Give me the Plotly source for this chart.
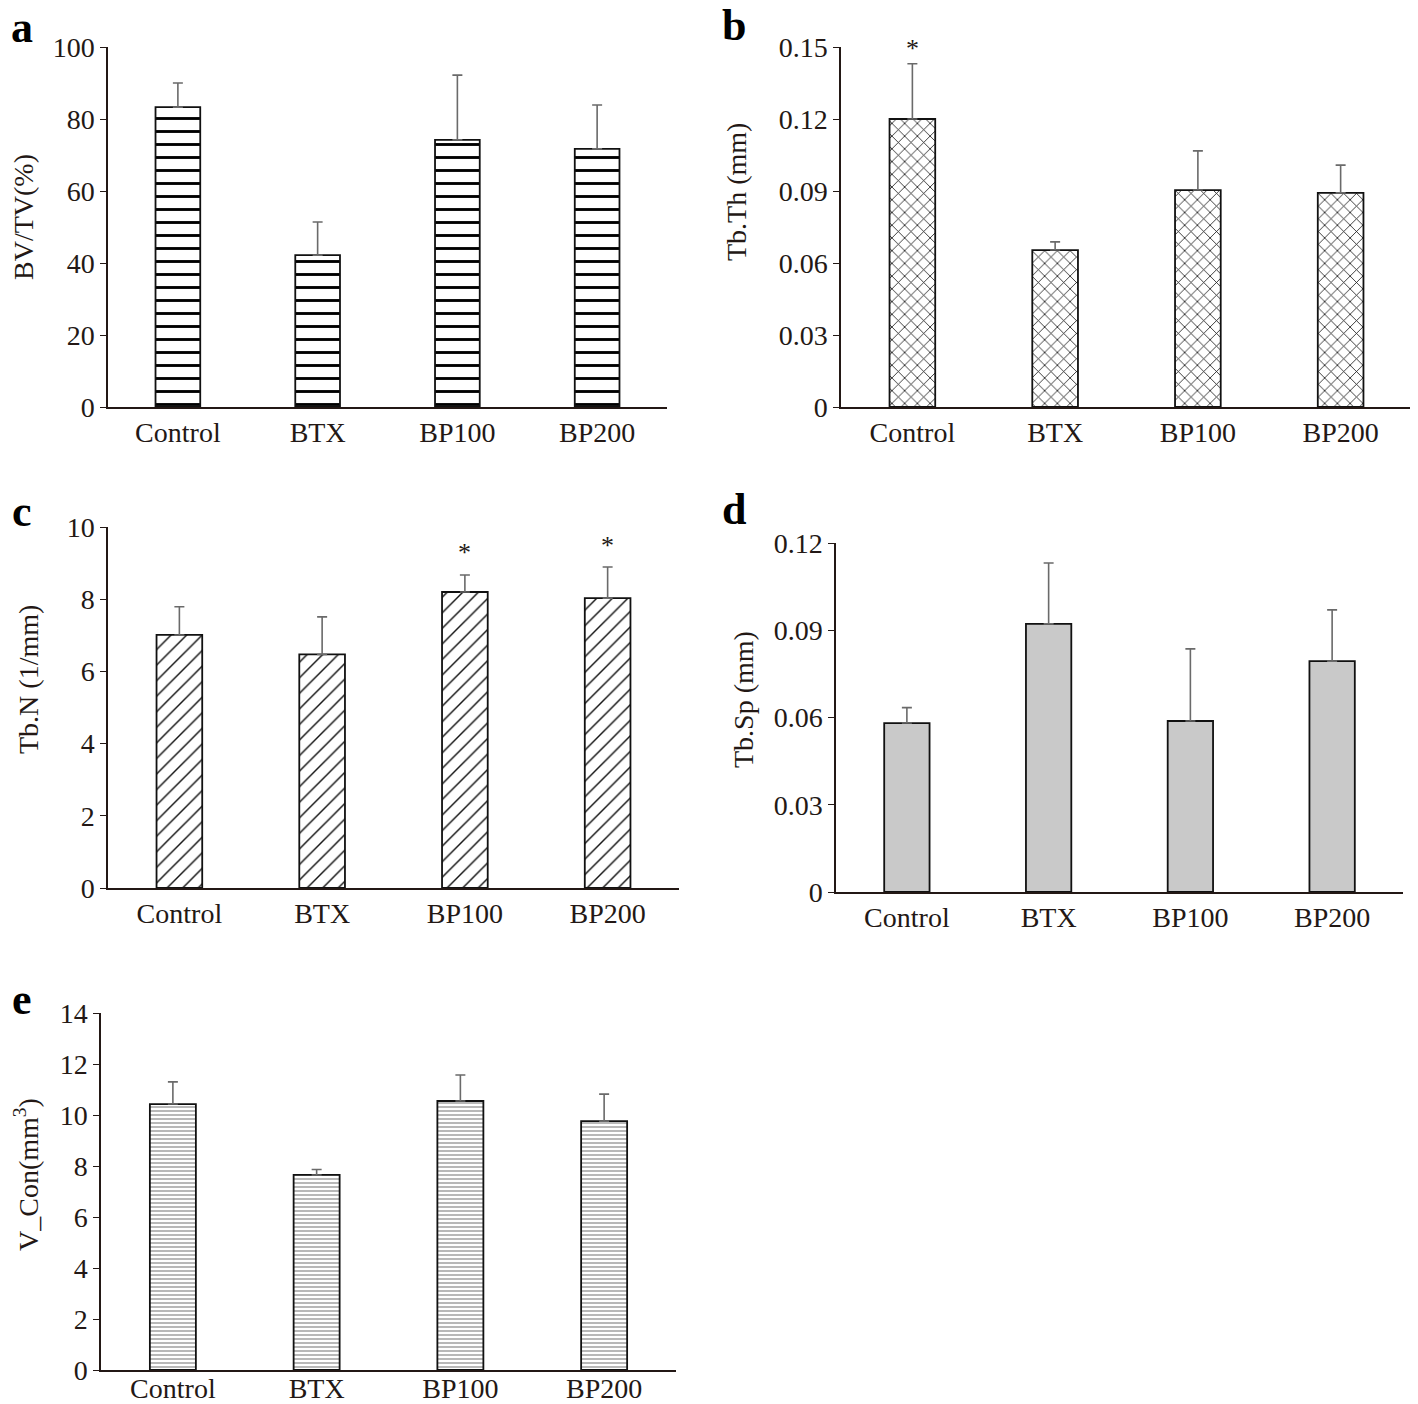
import plotly.graph_objects as go

# page body has an 8px margin; figure sized to fit the 1418x1404 window
OFF = 8
W, H = 1418 - OFF, 1404 - OFF
cats = ["Control", "BTX", "BP100", "BP200"]

bvtv = [83.3, 42.2, 74.2, 71.7]
bvtv_sd = [6.7, 9.2, 18.0, 12.2]
tbth = [0.120, 0.0654, 0.0904, 0.0892]
tbth_sd = [0.023, 0.0034, 0.0163, 0.0116]
tbn = [7.01, 6.47, 8.20, 8.03]
tbn_sd = [0.78, 1.04, 0.47, 0.86]
tbsp = [0.0581, 0.0922, 0.0588, 0.0794]
tbsp_sd = [0.0053, 0.0209, 0.0248, 0.0176]
vcon = [10.43, 7.65, 10.55, 9.76]
vcon_sd = [0.87, 0.21, 1.02, 1.06]

# significance markers: (category, y)
stars_b = [("Control", 0.1492)]
stars_c = [("BP100", 9.28), ("BP200", 9.5)]

TXT = "#231815"
FONT = "Liberation Serif"
FS = 28

def fx(x):
    return (x - OFF) / W

def fy(y):
    return 1 - (y - OFF) / H

def px_x(x0, x1):
    return [fx(x0), fx(x1)]

def px_y(top, bottom):
    return [fy(bottom), fy(top)]

panels = [
    dict(vals=bvtv, sd=bvtv_sd, rng=[0, 100], dtick=20,
         pat=dict(shape="-", size=13, solidity=0.22, fgcolor="#000", bgcolor="white", fgopacity=1), color="white",
         xd=px_x(108, 667), yd=px_y(47, 407), title="BV/TV(%)", tx=24, ty=217, xstand=0),
    dict(vals=tbth, sd=tbth_sd, rng=[0, 0.15], dtick=0.03,
         pat=dict(shape="x", size=9, solidity=0.17, fgcolor="#111", bgcolor="white", fgopacity=1), color="white",
         xd=px_x(841, 1412), yd=px_y(47, 407), title="Tb.Th (mm)", tx=737, ty=192, xstand=0),
    dict(vals=tbn, sd=tbn_sd, rng=[0, 10], dtick=2,
         pat=dict(shape="/", size=11, solidity=0.13, fgcolor="#111", bgcolor="white", fgopacity=1), color="white",
         xd=px_x(108, 679), yd=px_y(527, 888), title="Tb.N (1/mm)", tx=29, ty=680, xstand=0),
    dict(vals=tbsp, sd=tbsp_sd, rng=[0, 0.12], dtick=0.03, pat=None, color="#c9c9c9",
         xd=px_x(836, 1403), yd=px_y(543, 892), title="Tb.Sp (mm)", tx=743, ty=700, xstand=0),
    dict(vals=vcon, sd=vcon_sd, rng=[0, 14], dtick=2,
         pat=dict(shape="-", size=4, solidity=0.35, fgcolor="#9a9a9a", bgcolor="white", fgopacity=1), color="white",
         xd=px_x(101, 676), yd=px_y(1013, 1370), title="V_Con(mm<sup>3</sup>)", tx=26, ty=1175, xstand=-7),
]

fig = go.Figure()
layout = dict(width=W, height=H, margin=dict(l=0, r=0, t=0, b=0, autoexpand=False), paper_bgcolor="white",
              plot_bgcolor="white", showlegend=False, font=dict(family=FONT, color=TXT, size=FS))
annotations = []

def tick_text(v, dtick):
    if dtick < 1:
        return "0" if v == 0 else f"{v:.2f}"
    return f"{int(round(v))}"

for i, p in enumerate(panels):
    n = i + 1
    xa = "x" if n == 1 else f"x{n}"
    ya = "y" if n == 1 else f"y{n}"
    marker = dict(color=p["color"], line=dict(color="#111", width=1.8))
    if p["pat"]:
        marker["pattern"] = p["pat"]
    fig.add_trace(go.Bar(
        x=cats, y=p["vals"], xaxis=xa, yaxis=ya, width=0.32, marker=marker,
        error_y=dict(type="data", symmetric=False, array=p["sd"], arrayminus=[0] * 4,
                     color="#6a6a6a", thickness=1.6, width=5),
    ))
    tv = []
    v = p["rng"][0]
    while v <= p["rng"][1] + 1e-9:
        tv.append(round(v, 6))
        v += p["dtick"]
    layout[f"xaxis{'' if n == 1 else n}"] = dict(
        domain=p["xd"], anchor=ya, range=[-0.5, 3.5], showline=True, linecolor=TXT, linewidth=1.5,
        ticks="", showgrid=False, zeroline=False, tickfont=dict(size=FS, family=FONT, color=TXT),
        automargin=False, ticklabelstandoff=p["xstand"],
    )
    layout[f"yaxis{'' if n == 1 else n}"] = dict(
        domain=p["yd"], anchor=xa, range=p["rng"], showline=True, linecolor=TXT, linewidth=1.5,
        ticks="outside", ticklen=6, tickcolor=TXT, tickwidth=1.2, showgrid=False, zeroline=False,
        tickvals=tv, ticktext=[tick_text(t, p["dtick"]) for t in tv],
        tickfont=dict(size=FS, family=FONT, color=TXT), automargin=False,
    )
    annotations.append(dict(text=p["title"], textangle=-90, xref="paper", yref="paper",
                            x=fx(p["tx"]), y=fy(p["ty"]), xanchor="center", yanchor="middle",
                            showarrow=False, font=dict(size=FS, family=FONT, color=TXT)))

for c, y in stars_b:
    annotations.append(dict(text="*", x=c, y=y, xref="x2", yref="y2", showarrow=False,
                            yanchor="middle", font=dict(size=26, family=FONT, color=TXT)))
for c, y in stars_c:
    annotations.append(dict(text="*", x=c, y=y, xref="x3", yref="y3", showarrow=False,
                            yanchor="middle", font=dict(size=26, family=FONT, color=TXT)))

letters = [("a", 22, 27), ("b", 734, 26), ("c", 22, 511), ("d", 734, 509), ("e", 22, 999)]
for t, x, y in letters:
    annotations.append(dict(text=f"<b>{t}</b>", xref="paper", yref="paper", x=fx(x), y=fy(y),
                            xanchor="center", yanchor="middle", showarrow=False,
                            font=dict(size=44, family=FONT, color="#000")))

layout["annotations"] = annotations
fig.update_layout(**layout)
fig.write_html("out.html")
